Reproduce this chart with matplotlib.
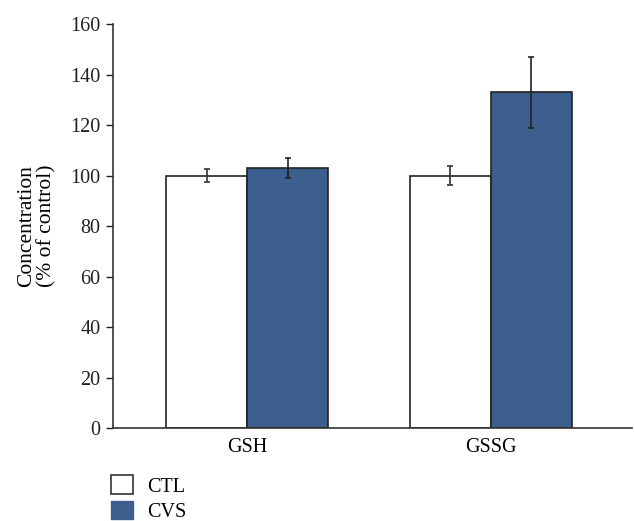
import matplotlib
matplotlib.use('Agg')
import matplotlib.pyplot as plt
import matplotlib.patches as mpatches
import numpy as np

groups = ['GSH', 'GSSG']
ctl = [100, 100]
ctl_err = [2.5, 3.6]
cvs = [103, 133]
cvs_err = [4, 14]

plt.rcParams['font.family'] = ['Liberation Serif', 'DejaVu Serif']
plt.rcParams['font.size'] = 14.5

fig = plt.figure(figsize=(6.34, 5.21), dpi=100)
ax = fig.add_axes([0.178, 0.178, 0.819, 0.776])

x = np.arange(len(groups))
w = 0.333
edge = '#222222'
blue = '#3d5f8d'
ax.bar(x - w / 2, ctl, w, color='white', edgecolor=edge, lw=1.2,
       yerr=ctl_err, error_kw=dict(ecolor='#333333', elinewidth=1.2, capsize=2.5, capthick=1.2))
ax.bar(x + w / 2, cvs, w, color=blue, edgecolor=edge, lw=1.2,
       yerr=cvs_err, error_kw=dict(ecolor='#222222', elinewidth=1.2, capsize=2.5, capthick=1.2))

ax.set_xlim(-0.551, 1.58)
ax.set_ylim(0, 160)
ax.set_yticks(range(0, 161, 20))
ax.set_xticks(x)
ax.set_xticklabels(groups)
ax.tick_params(axis='x', length=0, pad=7)
ax.tick_params(axis='y', length=5, width=1, direction='out', pad=4, colors='#222222')
for s in ['top', 'right']:
    ax.spines[s].set_visible(False)
for s in ['left', 'bottom']:
    ax.spines[s].set_color('#333333')
    ax.spines[s].set_linewidth(1.2)
ax.set_ylabel('Concentration\n(% of control)', fontsize=15.5, labelpad=10, linespacing=1.05)

handles = [mpatches.Patch(facecolor='white', edgecolor='#333333', lw=1.2, label='CTL'),
           mpatches.Patch(facecolor=blue, edgecolor=blue, label='CVS')]
fig.legend(handles=handles, loc='lower left', bbox_to_anchor=(0.163, -0.017),
           frameon=False, handlelength=1.05, handleheight=1.05, handletextpad=0.7,
           labelspacing=0.2, borderaxespad=0)

fig.savefig('out.png', dpi=100)
